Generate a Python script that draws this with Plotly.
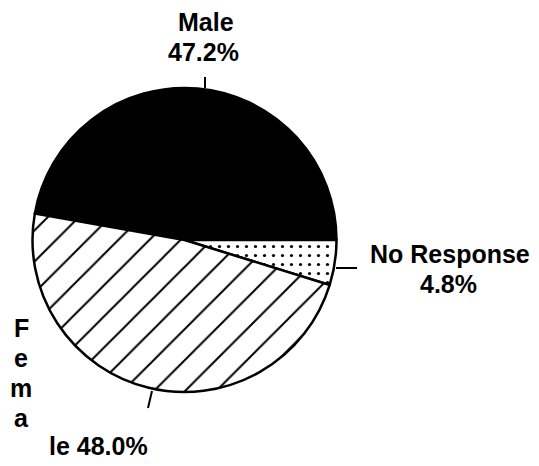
import plotly.graph_objects as go

labels = ["Male", "No Response", "Female"]
values = [47.2, 4.8, 48.0]
patterns = ["", ".", "/"]
fills = ["black", "white", "white"]

OFF = 8  # page body margin
W, H = 539 - OFF, 466 - OFF
cx, cy, r = 184.5 - OFF, 240 - OFF, 152

fig = go.Figure(go.Pie(
    labels=labels, values=values, sort=False, direction="clockwise",
    rotation=280, textinfo="none", hoverinfo="label+percent",
    marker=dict(colors=fills, line=dict(color="black", width=2.5),
                pattern=dict(shape=patterns, fgcolor=["black"] * 3,
                             bgcolor=fills, size=[10, 9, 22], solidity=[0.1, 0.1, 0.09])),
    domain=dict(x=[(cx - r) / W, (cx + r) / W], y=[(H - cy - r) / H, (H - cy + r) / H]),
    showlegend=False,
))

font = dict(family="Liberation Sans, Arial, sans-serif", size=25, color="black")

def px(x, y):
    return (x - OFF) / W, 1 - (y - OFF) / H

pct = [f"{v:.1f}%" for v in values]
items = [
    (206, 22, labels[0]), (203, 52, pct[0]),
    (450, 254, labels[1]), (448, 284, pct[1]),
]
for i, ch in enumerate(labels[2][:4]):
    items.append((21, 328 + 30 * i, ch))
items.append((98, 446, f"{labels[2][4:]} {pct[2]}"))

anns = []
for (x0, y0, t) in items:
    x, y = px(x0, y0)
    anns.append(dict(x=x, y=y, text=f"<b>{t}</b>", xref="paper", yref="paper",
                     showarrow=False, font=font, xanchor="center", yanchor="middle"))

shapes = []
for (x0, y0, x1, y1) in [(205, 77, 205, 88), (336, 268, 357, 268), (152, 391, 148, 408)]:
    a0, b0 = px(x0, y0)
    a1, b1 = px(x1, y1)
    shapes.append(dict(type="line", xref="paper", yref="paper", x0=a0, y0=b0, x1=a1, y1=b1,
                       line=dict(color="black", width=2)))

fig.update_layout(width=W, height=H, margin=dict(l=0, r=0, t=0, b=0),
                  paper_bgcolor="white", plot_bgcolor="white",
                  annotations=anns, shapes=shapes)
fig.write_html("out.html")
